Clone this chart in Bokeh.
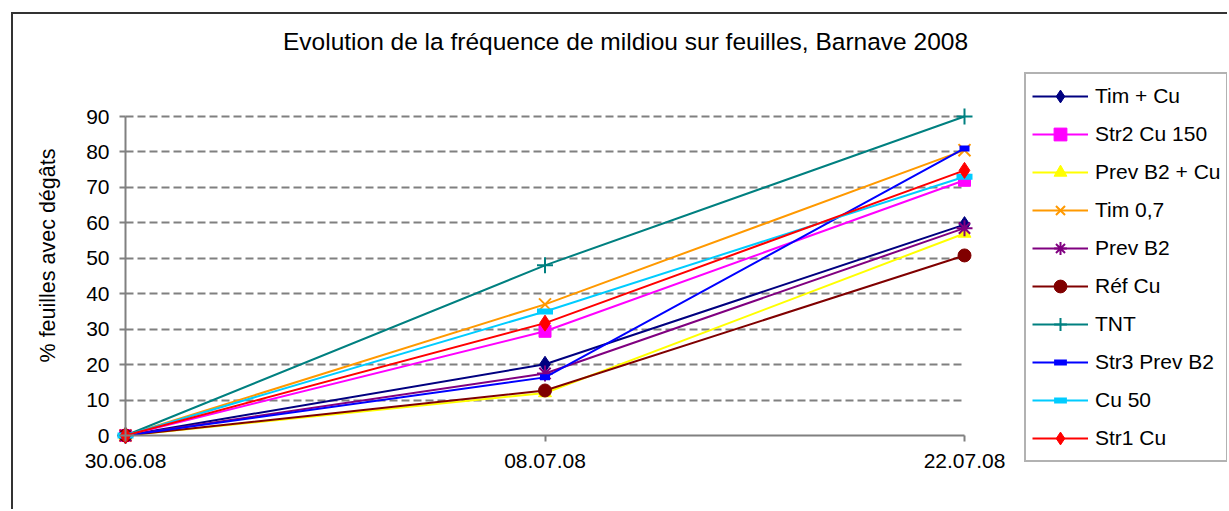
import math
from bokeh.plotting import figure
from bokeh.models import Range1d, FixedTicker, Legend, Label
from bokeh.embed import file_html
from bokeh.resources import INLINE

# ---- data ----
dates = ["30.06.08", "08.07.08", "22.07.08"]
series_names = ["Tim + Cu", "Str2 Cu 150", "Prev B2 + Cu", "Tim 0,7", "Prev B2",
                "Réf Cu", "TNT", "Str3 Prev B2", "Cu 50", "Str1 Cu"]
tim_cu = [0, 20.1, 59.5]
str2_cu150 = [0, 29.4, 72.0]
prevb2_cu = [0, 12.0, 57.0]
tim_07 = [0, 37.0, 80.5]
prev_b2 = [0, 17.5, 58.5]
ref_cu = [0, 12.7, 50.8]
tnt = [0, 48.0, 90.0]
str3_prevb2 = [0, 16.4, 81.0]
cu_50 = [0, 35.0, 73.0]
str1_cu = [0, 31.7, 74.8]
y_ticks = [0, 10, 20, 30, 40, 50, 60, 70, 80, 90]

values = [tim_cu, str2_cu150, prevb2_cu, tim_07, prev_b2, ref_cu, tnt,
          str3_prevb2, cu_50, str1_cu]
colors = ["#000080", "#FF00FF", "#FFFF00", "#FF9900", "#800080", "#800000",
          "#008080", "#0000FF", "#00CCFF", "#FF0000"]
# marker, size, line_width
markers = [("diamond", 16, 1), ("square", 12, 1), ("triangle", 13, 1),
           ("x", 17, 2), ("asterisk", 16, 2), ("circle", 13, 1),
           ("cross", 16, 2), ("dash", 10, 6), ("dash", 16, 6),
           ("diamond", 16, 1)]

FONT = "Liberation Sans"

# ---- layout (page pixels) ----
ORIGIN_X, ORIGIN_Y = 13, 14          # canvas origin after margin + border
PX_FLEFT = ORIGIN_X                  # frame covers the whole width
PX_LEFT, PX_XLAST, PX_RIGHT = 125, 964, 1227
PX_TOP, PX_YMAX, PX_Y0, PX_BOTTOM = 26, 116, 435, 470
W, H = 1229 - ORIGIN_X, 511 - ORIGIN_Y

xlast = len(dates) - 1
ppx = (PX_XLAST - PX_LEFT) / xlast
x_start = -(PX_LEFT - PX_FLEFT) / ppx
x_end = xlast + (PX_RIGHT - PX_XLAST) / ppx
ymax = y_ticks[-1]
ppu = (PX_Y0 - PX_YMAX) / ymax
y_end = ymax + (PX_YMAX - PX_TOP) / ppu
y_start = -(PX_BOTTOM - PX_Y0) / ppu

p = figure(width=W, height=H, output_backend="svg", toolbar_location=None,
           x_range=Range1d(x_start, x_end), y_range=Range1d(y_start, y_end),
           min_border_left=PX_FLEFT - ORIGIN_X,
           min_border_right=ORIGIN_X + W - PX_RIGHT,
           min_border_top=PX_TOP - ORIGIN_Y,
           min_border_bottom=511 - PX_BOTTOM)
p.margin = (12, 0, 0, 11)
p.styles = {"border-left": "2px solid #333333", "border-top": "2px solid #333333",
            "border-right": "0px none", "border-bottom": "0px none"}
p.outline_line_color = None
p.background_fill_color = "white"
p.border_fill_color = "white"

xs = list(range(len(dates)))
legend_items = []
for name, vals, col, (mk, sz, lw) in zip(series_names, values, colors, markers):
    r1 = p.line(xs, vals, line_color=col, line_width=2)
    if mk in ("x", "asterisk", "cross", "dash"):
        r2 = p.scatter(xs, vals, marker=mk, size=sz, line_color=col, line_width=lw)
    else:
        r2 = p.scatter(xs, vals, marker=mk, size=sz, fill_color=col, line_color=col,
                       line_width=lw)
    legend_items.append((name, [r1, r2]))

# axes (pinned at the data origin)
p.xaxis.ticker = FixedTicker(ticks=xs)
p.xaxis.major_label_overrides = {i: d for i, d in enumerate(dates)}
p.xaxis.bounds = (0, xlast)
p.xaxis.fixed_location = 0
p.yaxis.ticker = FixedTicker(ticks=y_ticks)
p.yaxis.bounds = (0, ymax)
p.yaxis.fixed_location = 0
for ax in (p.xaxis[0], p.yaxis[0]):
    ax.axis_line_color = "#808080"
    ax.axis_line_width = 2
    ax.major_tick_line_color = "#808080"
    ax.major_tick_line_width = 2
    ax.major_tick_out = 6
    ax.major_tick_in = 0
    ax.minor_tick_line_color = None
    ax.major_label_text_font = FONT
    ax.major_label_text_font_size = "21px"
    ax.major_label_text_color = "black"
p.xaxis.major_label_standoff = 12
p.yaxis.major_label_standoff = 10

p.xgrid.grid_line_color = None
p.ygrid.ticker = FixedTicker(ticks=y_ticks[1:])
p.ygrid.grid_line_color = "#808080"
p.ygrid.grid_line_width = 2
p.ygrid.grid_line_dash = "8 4"
try:
    p.ygrid.cross_bounds = (0, xlast)
except Exception:
    pass

# title
p.add_layout(Label(x=625 - PX_FLEFT, y=PX_BOTTOM - 41, x_units="screen", y_units="screen",
                   text="Evolution de la fréquence de mildiou sur feuilles, Barnave 2008",
                   text_font=FONT, text_font_size="24.5px", text_align="center",
                   text_baseline="middle", text_color="black"))
# y axis label
p.add_layout(Label(x=47 - PX_FLEFT, y=PX_BOTTOM - 255, x_units="screen", y_units="screen",
                   text="% feuilles avec dégâts", angle=math.pi / 2,
                   text_font=FONT, text_font_size="21.5px", text_align="center",
                   text_baseline="middle", text_color="black"))

legend = Legend(items=legend_items, location=(1024 - PX_FLEFT, PX_BOTTOM - 462))
legend.label_text_font = FONT
legend.label_text_font_size = "21px"
legend.label_text_color = "black"
legend.glyph_width = 56
legend.glyph_height = 32
legend.label_height = 32
legend.spacing = 6
legend.padding = 6
legend.margin = 0
legend.label_standoff = 7
legend.border_line_color = "#666666"
legend.border_line_width = 2
legend.background_fill_color = "white"
legend.background_fill_alpha = 1
p.add_layout(legend, "center")

open("out.html", "w").write(file_html(p, INLINE))
